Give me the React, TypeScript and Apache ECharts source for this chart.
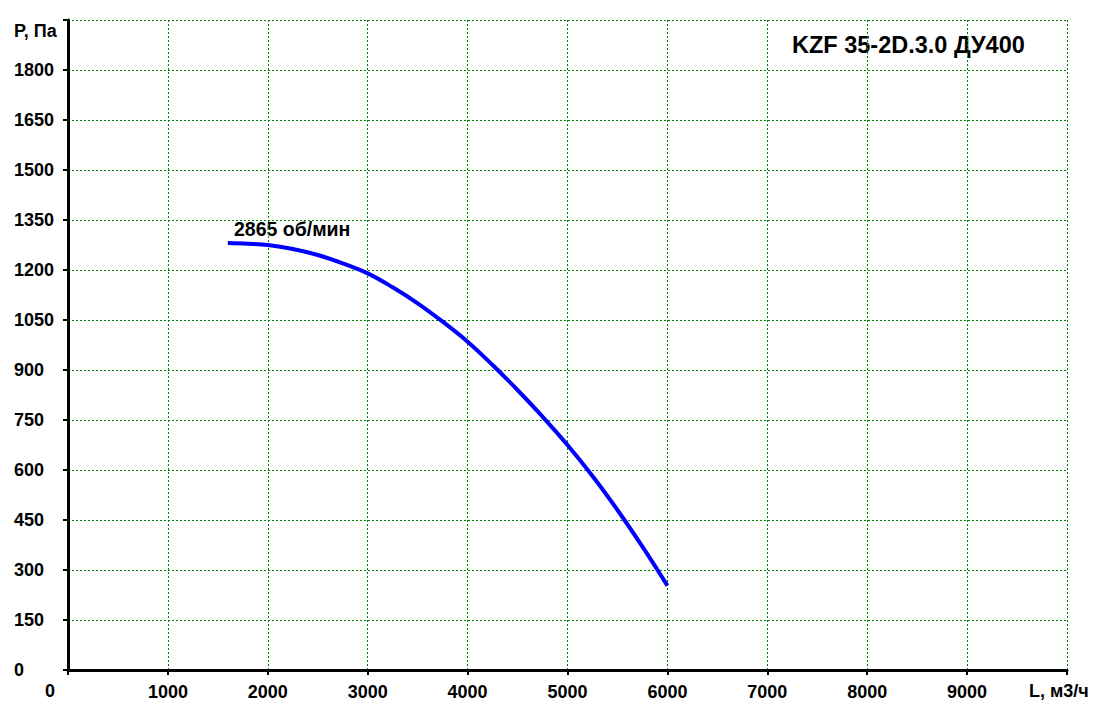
import React, { useEffect, useRef } from "react";
import * as echarts from "echarts";

const flowValues = [1600, 1800, 2000, 2250, 2500, 2750, 3000, 3250, 3500, 3750, 4000, 4250, 4500, 4750, 5000, 5250, 5500, 5750, 6000];
const pressureValues = [1281, 1279, 1275, 1263, 1245, 1220, 1190, 1148, 1100, 1045, 985, 915, 840, 760, 675, 582, 480, 370, 253];
const xTicks = [0, 1000, 2000, 3000, 4000, 5000, 6000, 7000, 8000, 9000, 10000];
const yTicks = [0, 150, 300, 450, 600, 750, 900, 1050, 1200, 1350, 1500, 1650, 1800, 1950];
const titleText = "KZF 35-2D.3.0 ДУ400";
const curveLabel = "2865 об/мин";
const xName = "L, м3/ч";
const yName = "P, Па";

const FONT = "'Liberation Sans', Arial, sans-serif";

export default function App() {
  const ref = useRef<HTMLDivElement>(null);
  useEffect(() => {
    document.body.style.margin = "0";
    const chart = echarts.init(ref.current!, null, { renderer: "svg" });
    const xMax = xTicks[xTicks.length - 1];
    const yMax = yTicks[yTicks.length - 1];
    chart.setOption({
      animation: false,
      backgroundColor: "#ffffff",
      grid: { left: 68, right: 33, top: 20, bottom: 47 },
      xAxis: {
        type: "value",
        min: 0,
        max: xMax,
        interval: 1000,
        axisLine: { show: true, onZero: false, lineStyle: { color: "#000", width: 3 } },
        axisTick: { show: true, inside: false, length: 5, lineStyle: { color: "#000", width: 2 } },
        splitLine: { show: true, lineStyle: { color: "#008000", type: [2, 2], width: 1 } },
        axisLabel: {
          color: "#000",
          fontFamily: FONT,
          fontWeight: "bold",
          fontSize: 18,
          margin: 13,
          showMinLabel: true,
          showMaxLabel: true,
          formatter: (v: number) => (v === 0 ? "" : v === xMax ? "" : String(v)),
        },
      },
      yAxis: {
        type: "value",
        min: 0,
        max: yMax,
        interval: 150,
        axisLine: { show: true, onZero: false, lineStyle: { color: "#000", width: 3 } },
        axisTick: { show: true, inside: false, length: 5, lineStyle: { color: "#000", width: 2 } },
        splitLine: { show: true, lineStyle: { color: "#008000", type: [2, 2], width: 1 } },
        axisLabel: {
          color: "#000",
          fontFamily: FONT,
          fontWeight: "bold",
          fontSize: 18,
          align: "left",
          margin: 54,
          showMinLabel: true,
          showMaxLabel: true,
          formatter: (v: number) => (v === yMax ? "" : String(v)),
        },
      },
      graphic: [
        {
          type: "text",
          left: 792,
          top: 33,
          style: { text: titleText, font: `bold 23.5px ${FONT}`, fill: "#000" },
        },
        {
          type: "text",
          left: 14,
          top: 22,
          style: { text: yName, font: `bold 18px ${FONT}`, fill: "#000" },
        },
        {
          type: "text",
          left: 1029,
          top: 682,
          style: { text: xName, font: `bold 18px ${FONT}`, fill: "#000" },
        },
        {
          type: "text",
          left: 45,
          top: 682,
          style: { text: "0", font: `bold 18px ${FONT}`, fill: "#000" },
        },
        {
          type: "text",
          left: 234,
          top: 219,
          style: { text: curveLabel, font: `bold 19.5px ${FONT}`, fill: "#000" },
        },
      ],
      series: [
        {
          type: "line",
          data: flowValues.map((x, i) => [x, pressureValues[i]]),
          smooth: 0.4,
          showSymbol: false,
          lineStyle: { color: "#0000ff", width: 4 },
        },
      ],
    });
    return () => chart.dispose();
  }, []);
  return <div ref={ref} style={{ width: 1100, height: 717 }} />;
}
